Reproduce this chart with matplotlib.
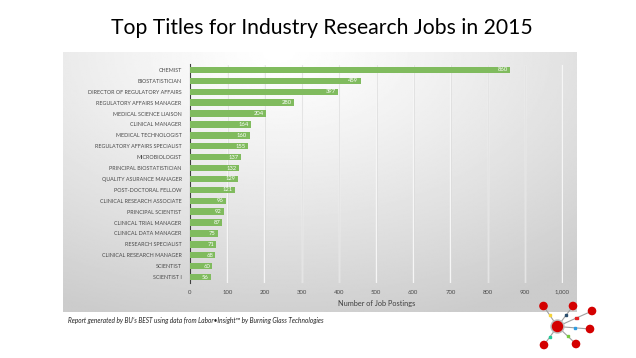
import numpy as np
import matplotlib
matplotlib.use("Agg")
import matplotlib.pyplot as plt
from matplotlib.patches import Circle, Rectangle

# ------ DATA
titles = ["CHEMIST", "BIOSTATISTICIAN", "DIRECTOR OF REGULATORY AFFAIRS",
          "REGULATORY AFFAIRS MANAGER", "MEDICAL SCIENCE LIAISON", "CLINICAL MANAGER",
          "MEDICAL TECHNOLOGIST", "REGULATORY AFFAIRS SPECIALIST", "MICROBIOLOGIST",
          "PRINCIPAL BIOSTATISTICIAN", "QUALITY ASURANCE MANAGER", "POST-DOCTORAL FELLOW",
          "CLINICAL RESEARCH ASSOCIATE", "PRINCIPAL SCIENTIST", "CLINICAL TRIAL MANAGER",
          "CLINICAL DATA MANAGER", "RESEARCH SPECIALIST", "CLINICAL RESEARCH MANAGER",
          "SCIENTIST", "SCIENTIST I"]
postings = [860, 459, 397, 280, 204, 164, 160, 155, 137, 132,
            129, 121, 96, 92, 87, 75, 71, 68, 60, 56]
x_ticks = [0, 100, 200, 300, 400, 500, 600, 700, 800, 900, 1000]
x_tick_labels = ["0", "100", "200", "300", "400", "500", "600", "700", "800", "900", "1,000"]

plt.rcParams['font.family'] = ['Lato', 'DejaVu Sans']

W, H = 636, 358
fig = plt.figure(figsize=(W / 100, H / 100), dpi=100)

# ------ gradient panel behind the chart
bg = fig.add_axes([63 / W, 1 - 312 / H, (577 - 63) / W, (312 - 52) / H])
gx, gy = np.meshgrid(np.linspace(0, 1, 300), np.linspace(0, 1, 200))
r = np.sqrt(((gx - 0.42) / 1.0) ** 2 + ((gy - 0.0) / 1.2) ** 2)
shade = 1.0 - 0.2 * np.clip(r / 0.9, 0, 1) ** 1.2
bg.imshow(shade, cmap='gray', vmin=0, vmax=1, aspect='auto',
          extent=[0, 1, 1, 0], interpolation='bilinear')
bg.set_xlim(0, 1)
bg.set_ylim(1, 0)
bg.axis('off')

# ------ bar chart
ax = fig.add_axes([190 / W, 1 - 282.5 / H, (563 - 190) / W, (282.5 - 64.5) / H])
ax.patch.set_alpha(0)
y = np.arange(len(titles))
ax.barh(y, postings, height=0.58, color='#80bb5e', zorder=3)
for yi, v in zip(y, postings):
    ax.text(v - 6, yi, str(v), color='white', fontsize=4.2, ha='right',
            va='center', zorder=4)

ax.set_ylim(len(titles) - 0.5, -0.5)
ax.set_xlim(0, 1003)
ax.set_yticks(y)
ax.set_yticklabels(titles, fontsize=3.9, color='#4a4a4a')
ax.set_xticks(x_ticks)
ax.set_xticklabels(x_tick_labels, fontsize=4.3, color='#4a4a4a', va='baseline')
ax.tick_params(axis='y', length=0, pad=6)
ax.tick_params(axis='x', length=0, pad=8)
for v in x_ticks[1:]:
    ax.axvline(v, color='#f6f6f6', lw=1.0, zorder=1)
    ax.axvline(v + 2, color='#d6d6d6', lw=0.4, zorder=1)
for s in ['top', 'right', 'bottom']:
    ax.spines[s].set_visible(False)
ax.spines['left'].set_color('#404040')
ax.spines['left'].set_linewidth(0.8)
ax.set_xlabel("Number of Job Postings", fontsize=5.3, color='#404040', labelpad=4)

# ------ title and footnote
fig.text(321.5 / W, 1 - 28 / H, "Top Titles for Industry Research Jobs in 2015",
         ha='center', va='center', fontsize=15.2, color='black')
fig.text(68 / W, 1 - 320 / H,
         "Report generated by BU\u2019s BEST using data from Labor\u2022Insight\u2122 by Burning Glass Technologies",
         ha='left', va='center', fontsize=4.7, style='italic', color='#222222')

# ------ logo (decoration)
lg = fig.add_axes([0, 0, 1, 1])
lg.set_xlim(0, W)
lg.set_ylim(H, 0)
lg.axis('off')
hub = (557.5, 326.5)
nodes = [(543.5, 306), (573, 306), (592, 311), (590, 329), (576, 344), (544, 345)]
dots = ['#f5d33a', '#2b4f6e', '#e52222', '#2e9be0', '#79c943', '#20c997']
for (nx, ny), c in zip(nodes, dots):
    lg.plot([hub[0], nx], [hub[1], ny], color='#a0a0a0', lw=0.8, zorder=1)
    mx, my = hub[0] + 0.55 * (nx - hub[0]), hub[1] + 0.55 * (ny - hub[1])
    lg.add_patch(Rectangle((mx - 1.1, my - 1.1), 2.2, 2.2, color=c, zorder=2))
    lg.add_patch(Circle((nx, ny), 3.6, color='#d40000', zorder=3))
lg.add_patch(Circle(hub, 6.5, color='#bdbdbd', zorder=3))
lg.add_patch(Circle(hub, 5, color='#d40000', zorder=4))

fig.savefig("out.png", dpi=100)
